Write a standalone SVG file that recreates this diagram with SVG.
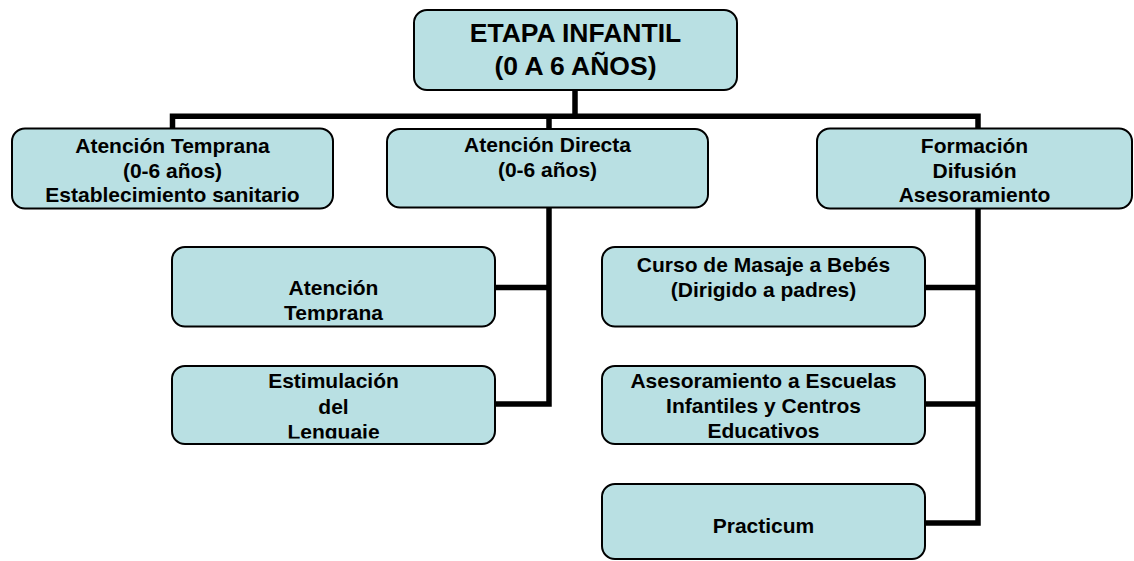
<svg xmlns="http://www.w3.org/2000/svg" width="1134" height="561" viewBox="0 0 1134 561">
<style>
.box{fill:#B9E0E3;stroke:#000;stroke-width:2}
.t{font-family:"Liberation Sans",Arial,Helvetica,sans-serif;font-weight:bold;font-size:21px;fill:#000;text-anchor:middle}
.big{font-size:26.5px}
.con{fill:none;stroke:#000;stroke-width:5.5;stroke-linejoin:miter;stroke-linecap:butt}
</style>
<defs>
<clipPath id="c1"><rect x="173" y="248" width="321" height="73"/></clipPath>
<clipPath id="c2"><rect x="173" y="367" width="321" height="71.5"/></clipPath>
</defs>
<rect width="1134" height="561" fill="#fff"/>
<g id="connectors">
<path class="con" d="M575,90 V116.3"/>
<path class="con" d="M172.5,129 V116.3 H978 V129"/>
<path class="con" d="M549,116.3 V129"/>
<path class="con" d="M549,208 V404 H495"/>
<path class="con" d="M495,287.5 H549"/>
<path class="con" d="M978,208 V523 H925"/>
<path class="con" d="M925,287.5 H978"/>
<path class="con" d="M925,404 H978"/>
</g>
<g id="root">
<rect class="box" x="414" y="10" width="323" height="80" rx="13"/>
<text class="t big" x="575.5" y="41.7">ETAPA INFANTIL</text>
<text class="t big" x="575.5" y="75">(0 A 6 AÑOS)</text>
</g>
<g id="atencion-temprana-sanitario">
<rect class="box" x="12" y="128.5" width="321" height="80" rx="13"/>
<text class="t" x="172.5" y="153">Atención Temprana</text>
<text class="t" x="172.5" y="178">(0-6 años)</text>
<text class="t" x="172.5" y="202">Establecimiento sanitario</text>
</g>
<g id="atencion-directa">
<rect class="box" x="387" y="129" width="321" height="78.5" rx="13"/>
<text class="t" x="547.5" y="152">Atención Directa</text>
<text class="t" x="547.5" y="177">(0-6 años)</text>
</g>
<g id="formacion">
<rect class="box" x="817" y="128.5" width="315" height="80" rx="13"/>
<text class="t" x="974.5" y="153">Formación</text>
<text class="t" x="974.5" y="178">Difusión</text>
<text class="t" x="974.5" y="202">Asesoramiento</text>
</g>
<g id="atencion-temprana">
<rect class="box" x="172" y="247" width="323" height="79.5" rx="13"/>
<g clip-path="url(#c1)">
<text class="t" x="333.5" y="295">Atención</text>
<text class="t" x="333.5" y="320">Temprana</text>
</g>
</g>
<g id="estimulacion">
<rect class="box" x="172" y="366" width="323" height="78" rx="13"/>
<g clip-path="url(#c2)">
<text class="t" x="333.5" y="388.3">Estimulación</text>
<text class="t" x="333.5" y="413.5">del</text>
<text class="t" x="333.5" y="438.5">Lenguaje</text>
</g>
</g>
<g id="curso-masaje">
<rect class="box" x="602" y="247" width="323" height="79.5" rx="13"/>
<text class="t" x="763.5" y="271.7">Curso de Masaje a Bebés</text>
<text class="t" x="763.5" y="296.7">(Dirigido a padres)</text>
</g>
<g id="asesoramiento-escuelas">
<rect class="box" x="602" y="366" width="323" height="78" rx="13"/>
<text class="t" x="763.5" y="388.3">Asesoramiento a Escuelas</text>
<text class="t" x="763.5" y="413.3">Infantiles y Centros</text>
<text class="t" x="763.5" y="438.3">Educativos</text>
</g>
<g id="practicum">
<rect class="box" x="602" y="484" width="323" height="75" rx="13"/>
<text class="t" x="763.5" y="533.3">Practicum</text>
</g>
</svg>
